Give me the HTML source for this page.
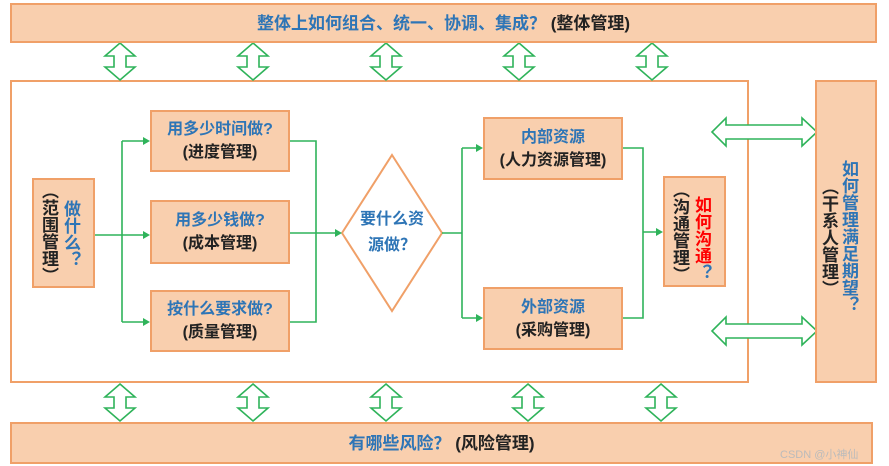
<!DOCTYPE html>
<html><head><meta charset="utf-8"><style>
body{margin:0;width:889px;height:466px;background:#fff;position:relative;overflow:hidden;font-family:"Liberation Sans","Noto Sans CJK SC",sans-serif;font-weight:bold}
.b{position:absolute;background:#f9cfae;border:2px solid #f0a068;box-sizing:border-box}
.bl{color:#2e75b6}.k{color:#222}.r{color:#ff0000}
.c{display:flex;flex-direction:column;align-items:center;justify-content:center;font-size:16px;line-height:23px}
.col{position:absolute;writing-mode:vertical-rl;white-space:nowrap;font-size:17px;line-height:20px;text-align:center}
</style></head><body>
<svg width="889" height="466" style="position:absolute;left:0;top:0">
<rect x="11" y="81" width="737" height="301" fill="#fff" stroke="#f0a068" stroke-width="2"/>
<g fill="#fff" stroke="#2fb35a" stroke-width="1.6">
<polygon points="120,43 135,56 126,56 126,67 135,67 120,80 105,67 114,67 114,56 105,56"/>
<polygon points="253,43 268,56 259,56 259,67 268,67 253,80 238,67 247,67 247,56 238,56"/>
<polygon points="386,43 401,56 392,56 392,67 401,67 386,80 371,67 380,67 380,56 371,56"/>
<polygon points="519,43 534,56 525,56 525,67 534,67 519,80 504,67 513,67 513,56 504,56"/>
<polygon points="652,43 667,56 658,56 658,67 667,67 652,80 637,67 646,67 646,56 637,56"/>
<polygon points="120,384 135,397 126,397 126,408 135,408 120,421 105,408 114,408 114,397 105,397"/>
<polygon points="253,384 268,397 259,397 259,408 268,408 253,421 238,408 247,408 247,397 238,397"/>
<polygon points="386,384 401,397 392,397 392,408 401,408 386,421 371,408 380,408 380,397 371,397"/>
<polygon points="528,384 543,397 534,397 534,408 543,408 528,421 513,408 522,408 522,397 513,397"/>
<polygon points="661,384 676,397 667,397 667,408 676,408 661,421 646,408 655,408 655,397 646,397"/>
<polygon points="712,132 726,118 726,125 802,125 802,118 817,132 802,146 802,139 726,139 726,146"/>
<polygon points="712,331 726,317 726,324 802,324 802,317 817,331 802,345 802,338 726,338 726,345"/>
</g>
<polygon points="392,155 442,233 392,311 342,233" fill="#fff" stroke="#f0a068" stroke-width="2"/>
<g fill="none" stroke="#2fb35a" stroke-width="1.6">
<path d="M95,235H122M122,141V322M122,141H146M122,235H146M122,322H146"/>
<path d="M290,141H316V322H290M290,233H338"/>
<path d="M442,233H462M462,148V318M462,148H479M462,318H479"/>
<path d="M623,148H643V318H623M643,232H659"/>
</g>
<g fill="#2fb35a">
<polygon points="150,141 143,137 143,145"/><polygon points="150,235 143,231 143,239"/><polygon points="150,322 143,318 143,326"/>
<polygon points="342,233 335,229 335,237"/><polygon points="483,148 476,144 476,152"/><polygon points="483,318 476,314 476,322"/><polygon points="663,232 656,228 656,236"/>
</g>
</svg>
<div class="b c" style="left:10px;top:3px;width:867px;height:40px;font-size:17px"><div><span class="bl">整体上如何组合、统一、协调、集成？</span> <span class="k">(整体管理)</span></div></div>
<div class="b c" style="left:10px;top:422px;width:863px;height:42px;font-size:17px"><div><span class="bl">有哪些风险？</span> <span class="k">(风险管理)</span></div></div>
<div class="b" style="left:815px;top:80px;width:62px;height:303px"></div>
<div class="col bl" style="left:838px;top:160px">如何管理满足期望？</div>
<div class="col k" style="left:818px;top:178px">（干系人管理）</div>
<div class="b" style="left:32px;top:178px;width:63px;height:110px"></div>
<div class="col bl" style="left:60px;top:200px">做什么？</div>
<div class="col k" style="left:38px;top:182px">（范围管理）</div>
<div class="b" style="left:663px;top:176px;width:63px;height:111px"></div>
<div class="col" style="left:691px;top:196px"><span class="r">如何沟通</span><span class="bl">？</span></div>
<div class="col k" style="left:669px;top:181px">（沟通管理）</div>
<div class="b c" style="left:150px;top:110px;width:140px;height:62px"><span class="bl">用多少时间做?</span><span class="k">(进度管理)</span></div>
<div class="b c" style="left:150px;top:200px;width:140px;height:64px"><span class="bl">用多少钱做?</span><span class="k">(成本管理)</span></div>
<div class="b c" style="left:150px;top:290px;width:140px;height:62px"><span class="bl">按什么要求做?</span><span class="k">(质量管理)</span></div>
<div class="b c" style="left:483px;top:117px;width:140px;height:63px"><span class="bl">内部资源</span><span class="k">(人力资源管理)</span></div>
<div class="b c" style="left:483px;top:287px;width:140px;height:63px"><span class="bl">外部资源</span><span class="k">(采购管理)</span></div>
<div class="c bl" style="position:absolute;left:342px;top:208px;width:100px;height:50px;font-size:16px;line-height:26px"><span>要什么资</span><span>源做？</span></div>
<div style="position:absolute;left:780px;top:446px;font-size:11px;color:#bbb;font-weight:normal">CSDN @小神仙</div>
</body></html>
